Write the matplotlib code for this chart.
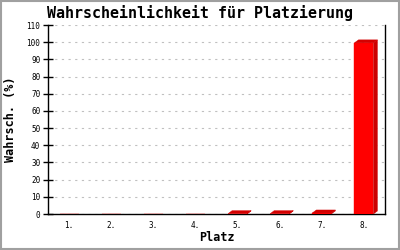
import numpy as np
import matplotlib
matplotlib.use("Agg")
import matplotlib.pyplot as plt
from matplotlib.patches import Polygon, Rectangle

# data
places = ["1.", "2.", "3.", "4.", "5.", "6.", "7.", "8."]
probs = [0, 0, 0, 0, 0.2, 0.2, 0.6, 99.6]
yticks = list(range(0, 111, 10))

mono = "DejaVu Sans Mono"

fig = plt.figure(figsize=(4, 2.5), dpi=100)
fig.patch.set_facecolor("white")
fig.add_artist(Rectangle((0.002, 0.003), 0.995, 0.993, transform=fig.transFigure,
                         fill=False, edgecolor="#a0a0a0", linewidth=1.5))

ax = fig.add_axes([0.12, 0.144, 0.8425, 0.756])
x_pos = np.arange(1, len(places) + 1)
width = 0.45

ax.set_xlim(0.5, len(places) + 0.5)
ax.set_ylim(0, 110)

# 3d depth in data units (about 4 px right, 3 px up)
ax_w_px = 0.8425 * 400
ax_h_px = 0.756 * 250
dx = 4 * (len(places)) / ax_w_px
dy = 3 * 110 / ax_h_px

ax.bar(x_pos, probs, width, color="#ff0000", edgecolor="#ff0000", linewidth=0.3, zorder=3)
for xc, v in zip(x_pos, probs):
    if v <= 0:
        continue
    l, r = xc - width / 2, xc + width / 2
    side = Polygon([(r, 0), (r + dx, dy), (r + dx, v + dy), (r, v)],
                   closed=True, facecolor="#cc0000", edgecolor="#cc0000",
                   linewidth=0.3, zorder=3)
    top = Polygon([(l, v), (l + dx, v + dy), (r + dx, v + dy), (r, v)],
                  closed=True, facecolor="#d40000", edgecolor="#d40000",
                  linewidth=0.3, zorder=3)
    ax.add_patch(side)
    ax.add_patch(top)

ax.set_yticks(yticks)
ax.set_xticks(x_pos)
ax.set_xticklabels(places)
ax.tick_params(axis="y", direction="inout", length=7, width=1, labelsize=5.5, pad=2)
ax.tick_params(axis="x", length=0, labelsize=5.5, pad=5)
for lab in ax.get_xticklabels() + ax.get_yticklabels():
    lab.set_family(mono)

ax.grid(axis="y", color="#c0c0c0", linestyle=(0, (2, 4)), linewidth=0.8, zorder=0)
ax.spines["top"].set_visible(False)
for s in ["left", "right", "bottom"]:
    ax.spines[s].set_linewidth(1)
    ax.spines[s].set_color("black")

ax.set_xlabel("Platz", family=mono, fontweight="bold", fontsize=8.5, labelpad=1)
ax.set_ylabel("Wahrsch. (%)", family=mono, fontweight="bold", fontsize=8.5, labelpad=7)
fig.text(0.5, 0.948, "Wahrscheinlichkeit für Platzierung", ha="center", va="center",
         family=mono, fontsize=10.8, fontweight="bold")

fig.savefig("out.png", dpi=100)
